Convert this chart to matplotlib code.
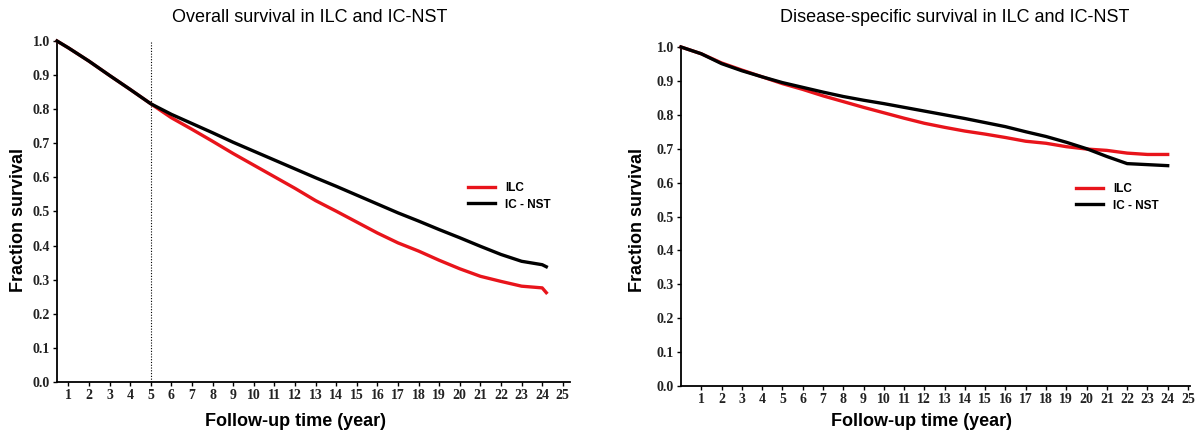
import matplotlib
matplotlib.use('Agg')
import matplotlib.pyplot as plt

# Overall survival
os_time = [0.45, 1, 2, 3, 4, 5, 6, 7, 8, 9, 10, 11, 12, 13, 14, 15, 16, 17, 18, 19, 20, 21, 22, 23, 24, 24.2]
os_ilc = [1.0, 0.98, 0.941, 0.899, 0.858, 0.816, 0.775, 0.741, 0.706, 0.670, 0.636, 0.602, 0.568, 0.532,
          0.501, 0.469, 0.437, 0.408, 0.384, 0.357, 0.332, 0.310, 0.295, 0.281, 0.276, 0.262]
os_icnst = [1.0, 0.98, 0.941, 0.899, 0.858, 0.816, 0.785, 0.758, 0.731, 0.703, 0.677, 0.651, 0.625, 0.599,
            0.574, 0.548, 0.522, 0.496, 0.472, 0.447, 0.423, 0.398, 0.374, 0.354, 0.344, 0.338]

# Disease-specific survival
dss_time = [0, 1, 2, 3, 4, 5, 6, 7, 8, 9, 10, 11, 12, 13, 14, 15, 16, 17, 18, 19, 20, 21, 22, 23, 24]
dss_ilc = [1.0, 0.98, 0.953, 0.932, 0.912, 0.892, 0.875, 0.856, 0.839, 0.822, 0.806, 0.790, 0.775, 0.763,
           0.752, 0.743, 0.733, 0.722, 0.716, 0.706, 0.699, 0.695, 0.687, 0.683, 0.683]
dss_icnst = [1.0, 0.98, 0.951, 0.930, 0.912, 0.895, 0.881, 0.867, 0.854, 0.843, 0.833, 0.822, 0.811, 0.800,
             0.789, 0.777, 0.765, 0.750, 0.736, 0.719, 0.700, 0.677, 0.656, 0.653, 0.650]

years = list(range(1, 26))
yticks = [0.0, 0.1, 0.2, 0.3, 0.4, 0.5, 0.6, 0.7, 0.8, 0.9, 1.0]

fig = plt.figure(figsize=(12.04, 4.36), dpi=100)
ax1 = fig.add_axes([57 / 1204, 1 - 382 / 436, 513 / 1204, 341 / 436])
ax2 = fig.add_axes([681 / 1204, 1 - 386 / 436, 509 / 1204, 339 / 436])

panels = [
    (ax1, os_time, os_ilc, os_icnst, (0.45, 25.35), 'Overall survival in ILC and IC-NST', 310,
     (0.464, -0.117), (-0.076, 0.475), (0.79, 0.545)),
    (ax2, dss_time, dss_ilc, dss_icnst, (0, 25.1), 'Disease-specific survival in ILC and IC-NST', 955,
     (0.473, -0.106), (-0.086, 0.49), (0.765, 0.557)),
]

for ax, t, ilc, icnst, xl, title, tx, xlc, ylc, lg in panels:
    ax.plot(t, ilc, color='#e8141b', lw=2.4, label='ILC', clip_on=False, zorder=3)
    ax.plot(t, icnst, color='black', lw=2.4, label='IC - NST', clip_on=False, zorder=4)
    ax.set_xlim(*xl)
    ax.set_ylim(0, 1.0)
    ax.set_xticks(years)
    ax.set_yticks(yticks)
    ax.set_yticklabels([f'{v:.1f}' for v in yticks])
    for s in ['top', 'right']:
        ax.spines[s].set_visible(False)
    for s in ['left', 'bottom']:
        ax.spines[s].set_linewidth(1.3)
    ax.tick_params(direction='out', length=3, width=1, pad=2)
    for lab in ax.get_xticklabels() + ax.get_yticklabels():
        lab.set_fontfamily('Liberation Serif')
        lab.set_fontweight('bold')
        lab.set_fontsize(10)
        lab.set_color('#222222')
    ax.set_xlabel('Follow-up time (year)', fontsize=13, fontweight='bold', family='Liberation Sans',
                  va='center')
    ax.set_ylabel('Fraction survival', fontsize=13, fontweight='bold', family='Liberation Sans',
                  va='center')
    ax.xaxis.set_label_coords(*xlc)
    ax.yaxis.set_label_coords(*ylc)
    ax.legend(loc='center left', bbox_to_anchor=lg, frameon=False, handlelength=2.3,
              prop={'family': 'Liberation Sans', 'weight': 'bold', 'size': 8.5},
              labelspacing=0.4, handletextpad=0.8, borderpad=0)
    fig.text(tx / 1204, 1 - 18 / 436, title, ha='center', va='center', fontsize=13,
             family='Liberation Sans')

ax1.axvline(5, ymin=0, ymax=1, color='black', lw=0.8, ls=(0, (1, 1.5)))

fig.savefig('out.png', dpi=100)
